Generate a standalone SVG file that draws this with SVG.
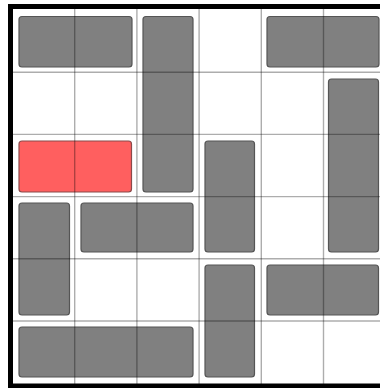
<svg xmlns="http://www.w3.org/2000/svg" width="380" height="388" viewBox="0 0 380 388">
  <style>
    .car { fill: #808080; stroke: #555555; stroke-width: 1.2; }
    .red { fill: #ff5f5f; stroke: #8a4a4a; stroke-width: 1.2; }
    .grid line { stroke: #000000; stroke-opacity: 0.32; stroke-width: 1.4; }
  </style>
  <rect x="0" y="0" width="380" height="388" fill="#ffffff"/>
  <g id="cars">
    <g id="car-a"><rect class="car" x="19" y="16.5" width="113" height="50.5" rx="3"/></g>
    <g id="car-b"><rect class="car" x="143" y="16.5" width="50" height="175.5" rx="3"/></g>
    <g id="car-c"><rect class="car" x="267" y="16.5" width="112" height="50.5" rx="3"/></g>
    <g id="car-d"><rect class="car" x="328.5" y="79" width="50" height="173" rx="3"/></g>
    <g id="car-e"><rect class="car" x="205" y="141" width="49.5" height="111" rx="3"/></g>
    <g id="car-red"><rect class="red" x="19" y="141" width="112.5" height="51" rx="3"/></g>
    <g id="car-f"><rect class="car" x="19" y="203" width="50.5" height="112" rx="3"/></g>
    <g id="car-g"><rect class="car" x="81" y="203" width="112" height="49" rx="3"/></g>
    <g id="car-h"><rect class="car" x="205" y="265" width="49.5" height="112" rx="3"/></g>
    <g id="car-i"><rect class="car" x="267" y="265" width="111.5" height="50" rx="3"/></g>
    <g id="car-j"><rect class="car" x="19" y="327" width="174" height="50" rx="3"/></g>
  </g>
  <g id="connectors" class="grid">
    <line x1="74.7" y1="8" x2="74.7" y2="385"/>
    <line x1="136.9" y1="8" x2="136.9" y2="385"/>
    <line x1="199.1" y1="8" x2="199.1" y2="385"/>
    <line x1="261.3" y1="8" x2="261.3" y2="385"/>
    <line x1="323.5" y1="8" x2="323.5" y2="385"/>
    <line x1="10" y1="72.2" x2="380" y2="72.2"/>
    <line x1="10" y1="134.4" x2="380" y2="134.4"/>
    <line x1="10" y1="196.6" x2="380" y2="196.6"/>
    <line x1="10" y1="258.8" x2="380" y2="258.8"/>
    <line x1="10" y1="321" x2="380" y2="321"/>
  </g>
  <g id="border">
    <rect x="10.5" y="6.5" width="380" height="379.5" fill="none" stroke="#000000" stroke-width="5"/>
  </g>
</svg>
